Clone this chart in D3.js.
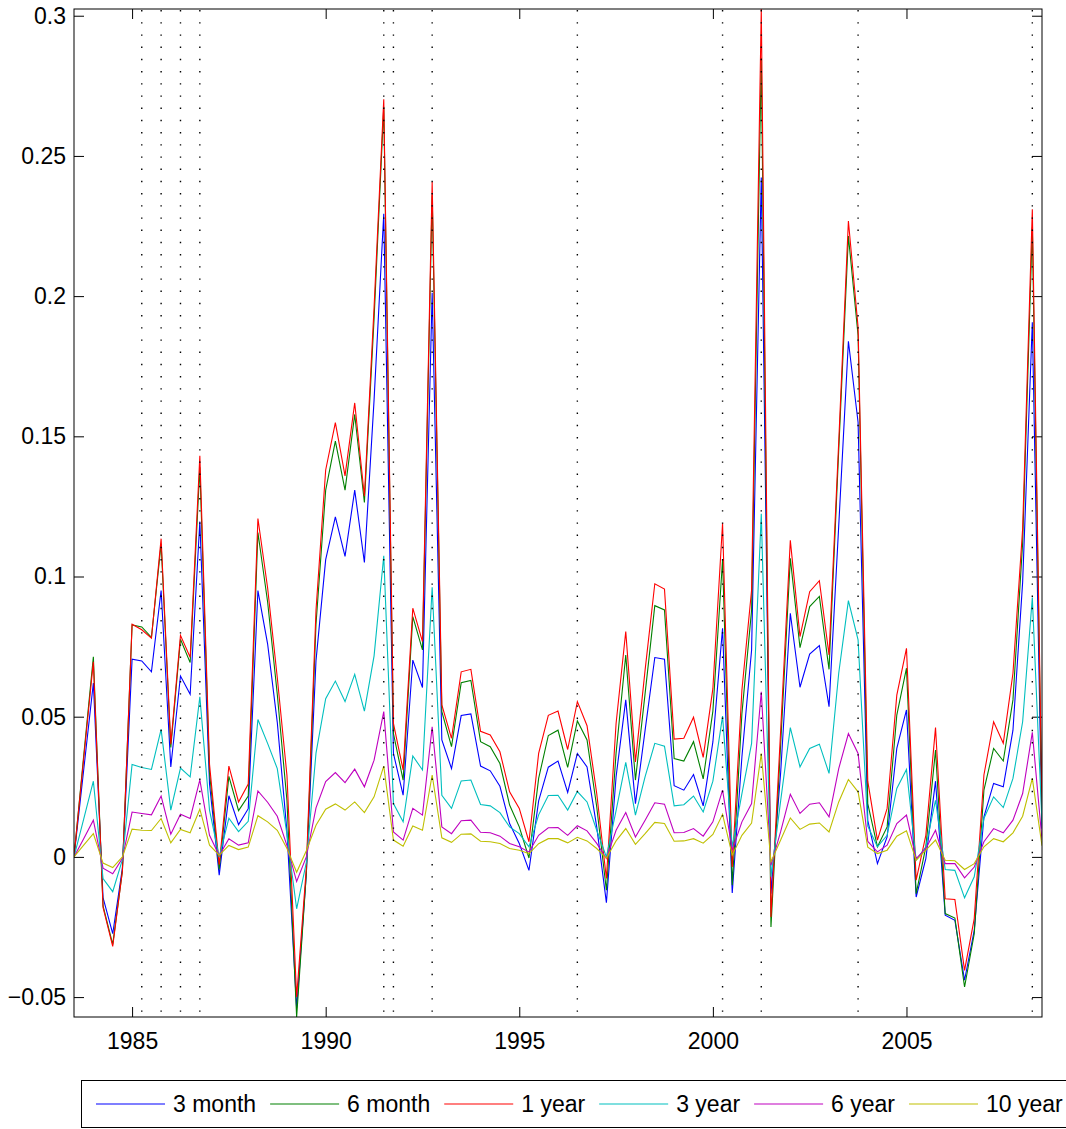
<!DOCTYPE html>
<html>
<head>
<meta charset="utf-8">
<script src="https://cdn.jsdelivr.net/npm/d3@7"></script>
<style>
  body { margin: 0; background: #fff; }
  svg text { font-family: "Liberation Sans", Arial, Helvetica, sans-serif; }
</style>
</head>
<body>
<svg class="svg-main" width="1066" height="1129"></svg>
<script>
// quarterly observations, first one at 1983.5
const startYear = 1983.5;
const step = 0.25;

const labels = ["3 month", "6 month", "1 year", "3 year", "6 year", "10 year"];
const colors = ["#0000ff", "#008000", "#ff0000", "#00bfbf", "#bf00bf", "#bfbf00"];

const m3 = [0, 0.031, 0.062, -0.0145, -0.0274, -0.004, 0.0705, 0.0699, 0.066, 0.095,
  0.0321, 0.0645, 0.058, 0.1196, 0.026, -0.0065, 0.0218, 0.0115, 0.0172, 0.095,
  0.076, 0.048, 0.009, -0.054, -0.006, 0.07, 0.106, 0.1213, 0.1072, 0.1308,
  0.105, 0.163, 0.2294, 0.0369, 0.022, 0.0702, 0.0604, 0.2012, 0.0417, 0.0315,
  0.0504, 0.051, 0.0324, 0.0307, 0.0252, 0.0119, 0.0048, -0.0048, 0.02, 0.032,
  0.0342, 0.023, 0.0369, 0.0321, 0.0107, -0.0163, 0.0286, 0.056, 0.019, 0.0452,
  0.0711, 0.0705, 0.0254, 0.0238, 0.0294, 0.0182, 0.041, 0.0815, -0.0129, 0.0357,
  0.0738, 0.2423, -0.0131, 0.03, 0.0869, 0.0605, 0.0723, 0.0754, 0.0536, 0.118,
  0.1839, 0.155, 0.013, -0.0024, 0.0071, 0.0387, 0.0524, -0.0143, -0.0006, 0.027,
  -0.0208, -0.0226, -0.044, -0.0262, 0.0143, 0.0262, 0.025, 0.0452, 0.098, 0.1907,
  0.01];

const m6 = [0, 0.036, 0.0714, -0.0175, -0.0312, -0.005, 0.0827, 0.082, 0.0783, 0.1117,
  0.039, 0.0776, 0.0693, 0.139, 0.03, -0.0045, 0.0287, 0.0165, 0.0217, 0.1157,
  0.091, 0.058, 0.02, -0.0571, -0.006, 0.083, 0.1308, 0.1483, 0.1308, 0.1578,
  0.1264, 0.192, 0.2675, 0.044, 0.0274, 0.0857, 0.0738, 0.236, 0.0518, 0.0393,
  0.0621, 0.0629, 0.0411, 0.0393, 0.0333, 0.0185, 0.0107, -0.0004, 0.028, 0.0433,
  0.0452, 0.0319, 0.0485, 0.0417, 0.0179, -0.0119, 0.037, 0.072, 0.0274, 0.0583,
  0.0896, 0.0881, 0.0351, 0.0342, 0.0411, 0.0278, 0.052, 0.106, -0.0101, 0.0512,
  0.088, 0.285, -0.025, 0.04, 0.1065, 0.0746, 0.0893, 0.0929, 0.0669, 0.145,
  0.2214, 0.186, 0.019, 0.0036, 0.0107, 0.0506, 0.0673, -0.0131, 0.0036, 0.0381,
  -0.0202, -0.0218, -0.0464, -0.0274, 0.0238, 0.0387, 0.0342, 0.056, 0.112, 0.2245,
  0.013];

const y1 = [0, 0.035, 0.0696, -0.018, -0.0319, -0.005, 0.083, 0.081, 0.078, 0.1135,
  0.0402, 0.079, 0.0712, 0.1431, 0.033, -0.0028, 0.0324, 0.0196, 0.026, 0.1207,
  0.096, 0.064, 0.029, -0.05, -0.004, 0.088, 0.138, 0.1549, 0.1359, 0.1619,
  0.1286, 0.196, 0.2702, 0.0476, 0.031, 0.0887, 0.0768, 0.2407, 0.0542, 0.0423,
  0.066, 0.0669, 0.0448, 0.0435, 0.0375, 0.0232, 0.0173, 0.0054, 0.0369, 0.0505,
  0.052, 0.0383, 0.0554, 0.0468, 0.0226, -0.0077, 0.0476, 0.0804, 0.0339, 0.0667,
  0.0974, 0.0955, 0.042, 0.0423, 0.0498, 0.0355, 0.06, 0.119, -0.0036, 0.0595,
  0.0952, 0.3024, -0.0214, 0.045, 0.1129, 0.0786, 0.0946, 0.0985, 0.072, 0.148,
  0.2268, 0.189, 0.027, 0.006, 0.0173, 0.0577, 0.0744, -0.0083, 0.0077, 0.0461,
  -0.0149, -0.0152, -0.0405, -0.022, 0.0292, 0.0482, 0.0405, 0.0655, 0.117, 0.231,
  0.017];

const y3 = [0, 0.0135, 0.027, -0.0077, -0.0124, -0.001, 0.033, 0.0319, 0.0312, 0.0455,
  0.0167, 0.0317, 0.0285, 0.0571, 0.0167, 0, 0.0138, 0.009, 0.0127, 0.049,
  0.0405, 0.0315, 0.008, -0.0185, -0.002, 0.037, 0.0564, 0.0627, 0.0554, 0.0651,
  0.052, 0.0717, 0.1074, 0.019, 0.0125, 0.036, 0.031, 0.0962, 0.022, 0.0173,
  0.0271, 0.0274, 0.0187, 0.0182, 0.0158, 0.0107, 0.0083, 0.0036, 0.015, 0.0219,
  0.022, 0.0167, 0.0233, 0.0196, 0.0095, 0, 0.0165, 0.0337, 0.0149, 0.0286,
  0.0405, 0.0395, 0.0182, 0.0186, 0.0217, 0.016, 0.027, 0.0502, 0.0036, 0.0226,
  0.0405, 0.1224, -0.0071, 0.02, 0.0461, 0.0321, 0.0387, 0.0402, 0.0298, 0.0655,
  0.0914, 0.0774, 0.011, 0.0036, 0.0077, 0.0244, 0.0312, -0.0012, 0.0036, 0.0202,
  -0.0045, -0.0048, -0.0146, -0.0071, 0.0137, 0.0214, 0.0176, 0.028, 0.0482, 0.0925,
  0.012];

const y6 = [0, 0.0065, 0.0131, -0.004, -0.006, -0.0005, 0.016, 0.0155, 0.015, 0.0217,
  0.0081, 0.0152, 0.0137, 0.0275, 0.0077, 0.0005, 0.0065, 0.0042, 0.005, 0.0235,
  0.0195, 0.0145, 0.004, -0.0088, 0, 0.0175, 0.0269, 0.0301, 0.0265, 0.0313,
  0.025, 0.0345, 0.0518, 0.0089, 0.006, 0.0173, 0.0149, 0.0464, 0.0107, 0.0083,
  0.0129, 0.0131, 0.0088, 0.0086, 0.0074, 0.0048, 0.0036, 0.0017, 0.0077, 0.0104,
  0.0105, 0.0077, 0.0111, 0.0093, 0.0048, -0.0006, 0.0095, 0.0158, 0.0071, 0.0131,
  0.0193, 0.0188, 0.0086, 0.0087, 0.0101, 0.0074, 0.0125, 0.0238, 0.0024, 0.0125,
  0.019, 0.0589, -0.003, 0.009, 0.0223, 0.0155, 0.0188, 0.0193, 0.0143, 0.0315,
  0.044, 0.0369, 0.0055, 0.0018, 0.0042, 0.0119, 0.0149, -0.0006, 0.003, 0.0095,
  -0.0024, -0.0024, -0.0075, -0.0036, 0.0054, 0.0101, 0.0086, 0.0131, 0.0226, 0.0444,
  0.006];

const y10 = [0, 0.0042, 0.0083, -0.0022, -0.0038, 0, 0.0099, 0.0095, 0.0094, 0.0137,
  0.005, 0.0098, 0.0086, 0.017, 0.0042, 0.0006, 0.0041, 0.0026, 0.0035, 0.0147,
  0.0125, 0.0095, 0.003, -0.0055, 0.0022, 0.0113, 0.017, 0.0189, 0.0167, 0.0196,
  0.0158, 0.0214, 0.0324, 0.006, 0.0038, 0.011, 0.0095, 0.0292, 0.0068, 0.0052,
  0.0081, 0.0082, 0.0056, 0.0054, 0.0048, 0.003, 0.0024, 0.0012, 0.0047, 0.0065,
  0.0065, 0.005, 0.007, 0.0057, 0.003, -0.0004, 0.0057, 0.0101, 0.0045, 0.0083,
  0.0123, 0.0119, 0.0056, 0.0057, 0.0065, 0.0049, 0.008, 0.0152, 0.0006, 0.0077,
  0.0121, 0.0369, -0.0018, 0.006, 0.0139, 0.0098, 0.0117, 0.0121, 0.0089, 0.0196,
  0.0276, 0.0232, 0.0035, 0.0012, 0.0024, 0.0074, 0.0093, -0.0012, 0.0024, 0.006,
  -0.0012, -0.0014, -0.0045, -0.0024, 0.0036, 0.0065, 0.0054, 0.0086, 0.0145, 0.028,
  0.004];

// dates marked with dotted vertical lines
const events = [1985.25, 1985.75, 1986.25, 1986.75, 1991.5, 1991.75, 1992.75,
  1996.5, 2000.25, 2001.25, 2003.75, 2008.25];

const xTicks = [1985, 1990, 1995, 2000, 2005];
const yTicks = [-0.05, 0, 0.05, 0.1, 0.15, 0.2, 0.25, 0.3];

const series = [m3, m6, y1, y3, y6, y10];

//

const svg = d3.select('.svg-main');
const margin = {top: 9, right: 24, bottom: 112, left: 74};
const width = Number(svg.attr("width")) - margin.left - margin.right;
const height = Number(svg.attr("height")) - margin.top - margin.bottom;

const lastYear = startYear + (m3.length - 1) * step;
const x = d3.scaleLinear().domain([startYear, lastYear]).range([0, width]);
// tight y limits like matlab's "axis tight"
const y = d3.scaleLinear().domain(d3.extent(series.flat())).range([height, 0]);

const g = svg.append("g")
  .attr("transform", `translate(${margin.left},${margin.top})`);

g.append("clipPath").attr("id", "plot-clip")
  .append("rect").attr("width", width).attr("height", height);

const fmt = (d) => d === 0 ? "0" : String(d).replace("-", "\u2212");

const styleAxis = (sel) => {
  sel.select(".domain").remove();
  sel.selectAll("line").attr("stroke", "#000");
  sel.attr("font-size", 23).attr("font-family", null);
  sel.selectAll("text").attr("fill", "#000");
};

g.append("g")
  .call(d3.axisLeft(y).tickValues(yTicks).tickFormat(fmt).tickSize(-10).tickPadding(8))
  .call(styleAxis);

g.append("g")
  .attr("transform", `translate(${width},0)`)
  .call(d3.axisRight(y).tickValues(yTicks).tickFormat("").tickSize(-10))
  .call(styleAxis);

g.append("g")
  .attr("transform", `translate(0,${height})`)
  .call(d3.axisBottom(x).tickValues(xTicks).tickFormat(d3.format("d")).tickSize(-10).tickPadding(16))
  .call(styleAxis);

g.append("g")
  .call(d3.axisTop(x).tickValues(xTicks).tickFormat("").tickSize(-10))
  .call(styleAxis);

const line = d3.line()
  .x((d, i) => x(startYear + i * step))
  .y((d) => y(d));

g.append("g")
  .attr("class", "series")
  .attr("clip-path", "url(#plot-clip)")
  .selectAll("path")
  .data(series)
  .enter().append("path")
    .attr("d", line)
    .attr("fill", "none")
    .attr("stroke", (d, i) => colors[i])
    .attr("stroke-width", 1.1)
    .attr("stroke-linejoin", "miter");

g.append("g")
  .attr("class", "events")
  .selectAll("line")
  .data(events)
  .enter().append("line")
    .attr("x1", (d) => x(d))
    .attr("x2", (d) => x(d))
    .attr("y1", 1)
    .attr("y2", height)
    .attr("stroke", "#000")
    .attr("stroke-width", 1.4)
    .attr("stroke-dasharray", "1.4,10.8");

g.append("rect")
  .attr("width", width)
  .attr("height", height)
  .attr("fill", "none")
  .attr("stroke", "#000")
  .attr("stroke-width", 1);

// legend, one row under the axes
const legend = svg.append("g").attr("class", "legend");
legend.append("rect")
  .attr("x", 81.5).attr("y", 1080.5)
  .attr("width", 1000).attr("height", 47)
  .attr("fill", "#fff")
  .attr("stroke", "#000");

let lx = 96;
labels.forEach((name, i) => {
  legend.append("line")
    .attr("x1", lx).attr("x2", lx + 69)
    .attr("y1", 1104).attr("y2", 1104)
    .attr("stroke", colors[i])
    .attr("stroke-width", 1.1);
  const t = legend.append("text")
    .attr("x", lx + 77).attr("y", 1104)
    .attr("dy", "0.36em")
    .attr("font-size", 23)
    .attr("fill", "#000")
    .text(name);
  lx += 77 + t.node().getComputedTextLength() + 14;
});
</script>
</body>
</html>
